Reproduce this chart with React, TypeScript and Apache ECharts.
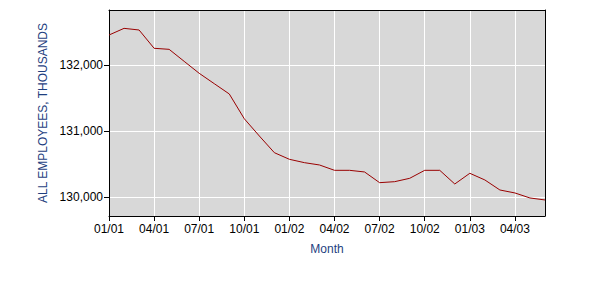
import React, { useEffect, useRef } from "react";
import * as echarts from "echarts";

const months: string[] = [
  "01/01", "02/01", "03/01", "04/01", "05/01", "06/01", "07/01", "08/01", "09/01", "10/01", "11/01", "12/01",
  "01/02", "02/02", "03/02", "04/02", "05/02", "06/02", "07/02", "08/02", "09/02", "10/02", "11/02", "12/02",
  "01/03", "02/03", "03/03", "04/03", "05/03", "06/03",
];

const employees: number[] = [
  132454, 132555, 132530, 132253, 132237, 132055, 131874, 131717, 131561, 131185, 130924, 130671,
  130571, 130520, 130485, 130404, 130404, 130379, 130217, 130232, 130283, 130404, 130404, 130197,
  130359, 130258, 130106, 130061, 129985, 129955,
];

const yTicks: number[] = [130000, 131000, 132000];
const yMin = 129712;
const yMax = 132833;

const FONT = "'Liberation Sans', Arial, sans-serif";
const BLUE = "#1f3f7f";

export default function App() {
  const ref = useRef<HTMLDivElement>(null);
  useEffect(() => {
    if (!ref.current) return;
    const chart = echarts.init(ref.current, null, { renderer: "svg" });
    chart.setOption({
      animation: false,
      backgroundColor: "#ffffff",
      grid: {
        left: 101,
        right: 63,
        top: 2,
        bottom: 92,
        show: true,
        backgroundColor: "#d8d8d8",
        borderWidth: 0,
      },
      xAxis: [
        {
          type: "category",
          data: months,
          boundaryGap: false,
          name: "Month",
          nameLocation: "middle",
          nameGap: 27,
          nameTextStyle: { color: BLUE, fontFamily: FONT, fontSize: 12 },
          axisLine: { show: true, lineStyle: { color: "#000", width: 1 } },
          axisTick: { show: true, interval: 2, length: 5, lineStyle: { color: "#000" } },
          axisLabel: { interval: 2, color: "#000", fontFamily: FONT, fontSize: 12, margin: 7 },
          splitLine: { show: true, interval: 2, lineStyle: { color: "#ffffff", width: 1 } },
        },
        {
          type: "category",
          data: months,
          boundaryGap: false,
          position: "top",
          z: 5,
          axisLine: { show: true, lineStyle: { color: "#000", width: 1 } },
          axisTick: { show: false },
          axisLabel: { show: false },
          splitLine: { show: false },
        },
      ],
      yAxis: [
        {
          type: "value",
          min: yMin,
          max: yMax,
          interval: 1000,
          name: "ALL EMPLOYEES, THOUSANDS",
          nameLocation: "middle",
          nameGap: 53,
          nameTextStyle: { color: BLUE, fontFamily: FONT, fontSize: 12 },
          z: 4,
          axisLine: { show: true, lineStyle: { color: "#000", width: 1 } },
          axisTick: { show: true, length: 5, customValues: yTicks, lineStyle: { color: "#000" } },
          axisLabel: {
            customValues: yTicks,
            color: "#000",
            fontFamily: FONT,
            fontSize: 12,
            margin: 6,
            formatter: (v: number) => v.toLocaleString("en-US"),
          },
          splitLine: { show: true, lineStyle: { color: "#ffffff", width: 1 } },
        },
        {
          type: "value",
          min: yMin,
          max: yMax,
          position: "right",
          z: 5,
          axisLine: { show: true, lineStyle: { color: "#000", width: 1 } },
          axisTick: { show: false },
          axisLabel: { show: false },
          splitLine: { show: false },
        },
      ],
      series: [
        {
          type: "line",
          data: employees,
          xAxisIndex: 0,
          yAxisIndex: 0,
          symbol: "none",
          lineStyle: { color: "#990000", width: 1 },
          z: 10,
        },
      ],
    });
    return () => chart.dispose();
  }, []);
  return <div ref={ref} style={{ width: 600, height: 300 }} />;
}
